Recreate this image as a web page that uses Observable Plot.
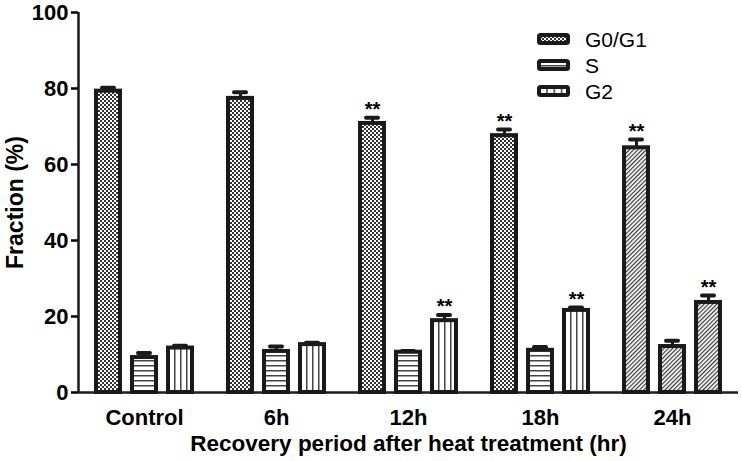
<!DOCTYPE html>
<html><head><meta charset="utf-8">
<script src="https://cdn.jsdelivr.net/npm/d3@7"></script>
<script src="https://cdn.jsdelivr.net/npm/@observablehq/plot@0.6"></script>
<style>
body{margin:0;background:#fff;}
#chart{position:relative;width:742px;height:461px;}
</style></head><body><div id="chart"></div>
<script>
const groups = ["Control", "6h", "12h", "18h", "24h"];
const series = ["G0/G1", "S", "G2"];
const g0g1Values = [79.3, 77.4, 70.8, 67.6, 64.4];
const g0g1Errors = [0.9, 1.6, 1.5, 1.6, 2.2];
const sValues = [9.2, 10.8, 10.6, 11.1, 12.1];
const sErrors = [1.2, 1.3, 0.3, 0.9, 1.5];
const g2Values = [11.7, 12.6, 18.9, 21.6, 23.7];
const g2Errors = [0.6, 0.5, 1.5, 0.8, 1.8];
const g0g1Sig = [false, false, true, true, true];
const sSig = [false, false, false, false, false];
const g2Sig = [false, false, true, true, true];
const yTicks = [0, 20, 40, 60, 80, 100];
const yLabel = "Fraction (%)";
const xLabel = "Recovery period after heat treatment (hr)";

const vals = [g0g1Values, sValues, g2Values];
const errs = [g0g1Errors, sErrors, g2Errors];
const sigs = [g0g1Sig, sSig, g2Sig];
const rows = [];
groups.forEach((g, i) => series.forEach((s, j) => rows.push({group: g, series: s, value: vals[j][i], err: errs[j][i], sig: sigs[j][i]})));

const patternOf = {"G0/G1": "url(#pat-check)", "S": "url(#pat-hstripe)", "G2": "url(#pat-vstripe)"};
const fillFor = d => d.group === "24h" ? "url(#pat-diag)" : patternOf[d.series];
const ink = "#1a1a1a";
const font = "'Liberation Sans', Arial, Helvetica, sans-serif";

const chart = Plot.plot({
  width: 742, height: 461,
  marginLeft: 78, marginRight: 4, marginTop: 12, marginBottom: 69,
  style: {fontFamily: font, background: "#fff", color: "#000", overflow: "visible"},
  fx: {domain: groups, padding: 0},
  x: {domain: series, paddingInner: 1/3, paddingOuter: 0.5, axis: null},
  y: {domain: [0, 100]},
  color: {type: "identity"},
  marks: [
    Plot.axisY({ticks: yTicks, tickSize: 7, tickPadding: 3, strokeWidth: 2.5, fontSize: 22, fontWeight: "bold",
      label: null}),
    Plot.axisY({ticks: [], tickSize: 0, fontSize: 23, fontWeight: "bold",
      label: yLabel, labelAnchor: "center", labelOffset: 72, labelArrow: "none"}),
    Plot.axisFx({anchor: "bottom", tickSize: 0, tickPadding: 17, fontSize: 22, fontWeight: "bold", label: null}),
    Plot.axisFx({anchor: "bottom", tickSize: 0, ticks: [], fontSize: 22.5, fontWeight: "bold", dx: -12,
      label: xLabel, labelAnchor: "center", labelOffset: 58, labelArrow: "none"}),
    Plot.ruleX([groups[0]], {fx: d => d, x: () => series[0], dx: -30, y1: 0, y2: 100, stroke: ink, strokeWidth: 2.5}),
    Plot.ruleX(rows, {fx: "group", x: "series", y1: "value", y2: d => d.value + d.err, stroke: ink, strokeWidth: 3}),
    Plot.tickY(rows, {fx: "group", x: "series", y: d => d.value + d.err, stroke: ink, strokeWidth: 4, strokeLinecap: "round", insetLeft: 6, insetRight: 6}),
    Plot.barY(rows, {fx: "group", x: "series", y: "value", fill: fillFor, stroke: ink, strokeWidth: 4}),
    Plot.text(rows.filter(d => d.sig), {fx: "group", x: "series", y: d => d.value + d.err, text: () => "**", dy: -8, fontSize: 20, fontWeight: "bold", fill: "#000"}),
    Plot.ruleY([0], {stroke: ink, strokeWidth: 2.5})
  ]
});

const svg = d3.select(chart);
const defs = svg.insert("defs", ":first-child");
let p = defs.append("pattern").attr("id", "pat-check").attr("patternUnits", "userSpaceOnUse").attr("width", 4).attr("height", 4);
p.append("rect").attr("width", 4).attr("height", 4).attr("fill", "#fff");
p.append("rect").attr("width", 2).attr("height", 2).attr("fill", "#333");
p.append("rect").attr("x", 2).attr("y", 2).attr("width", 2).attr("height", 2).attr("fill", "#333");
p = defs.append("pattern").attr("id", "pat-hstripe").attr("patternUnits", "userSpaceOnUse").attr("width", 10).attr("height", 5);
p.append("rect").attr("width", 10).attr("height", 5).attr("fill", "#fff");
p.append("rect").attr("y", 0).attr("width", 10).attr("height", 1.5).attr("fill", "#444");
p = defs.append("pattern").attr("id", "pat-vstripe").attr("patternUnits", "objectBoundingBox").attr("width", 0.25).attr("height", 1);
p.append("rect").attr("width", 100).attr("height", 2000).attr("fill", "#fff");
p.append("rect").attr("x", 0).attr("width", 1.5).attr("height", 2000).attr("fill", "#444");
p = defs.append("pattern").attr("id", "pat-diag").attr("patternUnits", "userSpaceOnUse").attr("width", 3).attr("height", 3).attr("patternTransform", "rotate(45)");
p.append("rect").attr("width", 3).attr("height", 3).attr("fill", "#fff");
p.append("rect").attr("width", 1.2).attr("height", 3).attr("fill", "#333");

const legend = svg.append("g").attr("font-family", font).attr("font-size", 21).attr("text-anchor", "start");
series.forEach((s, i) => {
  const y = 39 + i * 26;
  legend.append("rect").attr("x", 539).attr("y", y - 4).attr("width", 29).attr("height", 8).attr("rx", 1.5)
    .attr("fill", patternOf[s]).attr("stroke", ink).attr("stroke-width", 4);
  legend.append("text").attr("x", 585).attr("y", y).attr("dy", "0.36em").attr("fill", "#000").text(s);
});

document.getElementById("chart").appendChild(chart);
</script></body></html>
